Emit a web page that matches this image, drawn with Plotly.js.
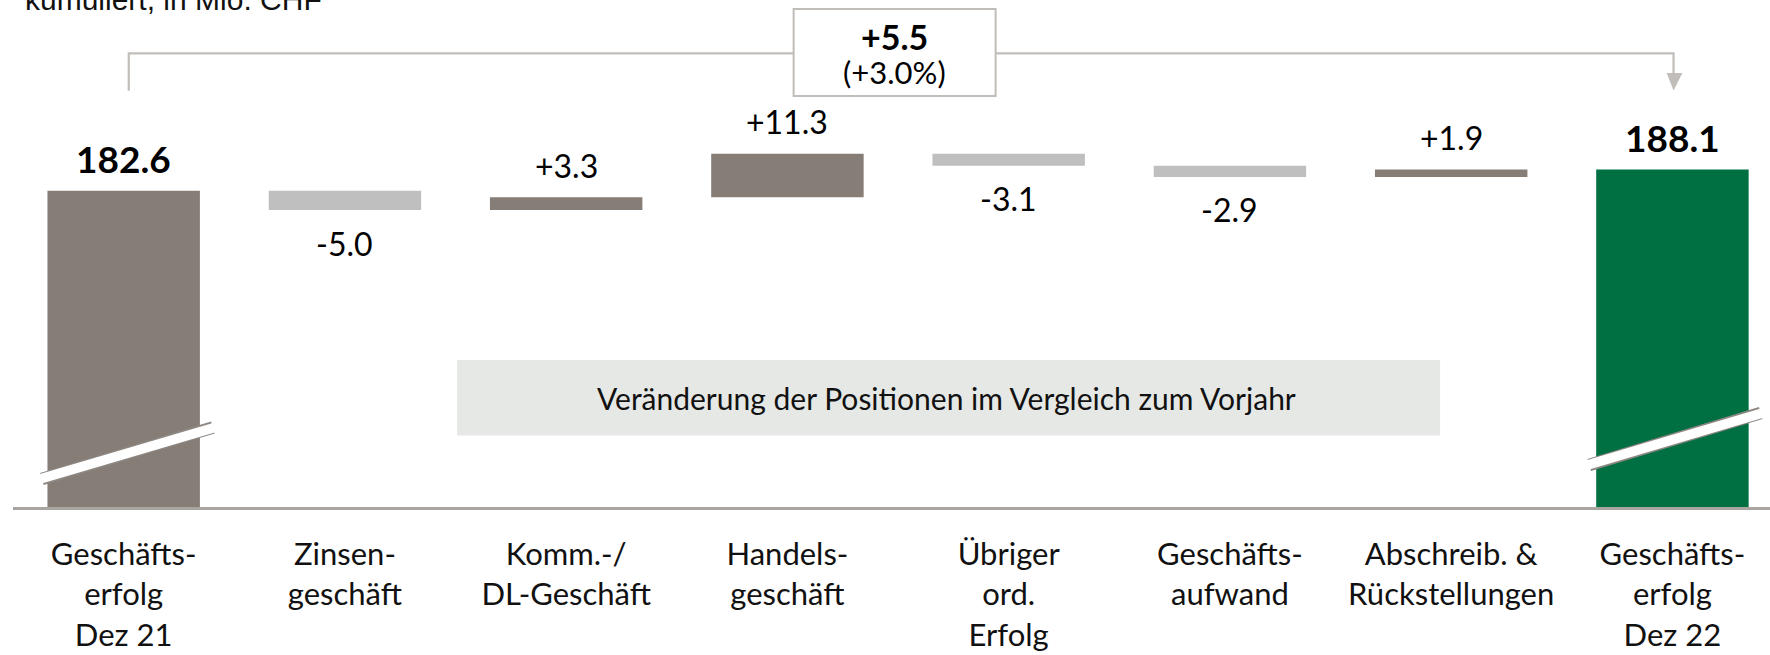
<!DOCTYPE html>
<html>
<head>
<meta charset="utf-8">
<script src="https://cdn.plot.ly/plotly-3.0.1.min.js"></script>
<style>html,body{margin:0;padding:0;background:#fff;}#chart{width:1770px;height:655px;}</style>
</head>
<body>
<div id="chart"></div>
<script>
// ---- data ----
const categories = ['Geschäfts-<br>erfolg<br>Dez 21', 'Zinsen-<br>geschäft', 'Komm.-/<br>DL-Geschäft', 'Handels-<br>geschäft', 'Übriger<br>ord.<br>Erfolg', 'Geschäfts-<br>aufwand', 'Abschreib. &<br>Rückstellungen', 'Geschäfts-<br>erfolg<br>Dez 22'];
const startValue = 182.6;
const deltas = [-5.0, 3.3, 11.3, -3.1, -2.9, 1.9];
const endValue = 188.1;
const totalChangeLabel = '+5.5';
const totalChangePctLabel = '(+3.0%)';
const subtitleText = 'kumuliert, in Mio. CHF';
const noteText = 'Veränderung der Positionen im Vergleich zum Vorjahr';

// ---- styles ----
const COL_POS = '#867d76', COL_NEG = '#bfbfbf', COL_END = '#006f41';
const FONT = 'Lato, "Open Sans", sans-serif';

// build waterfall pieces
const xs = [], bases = [], heights = [], colors = [];
xs.push(0); bases.push(0); heights.push(startValue); colors.push(COL_POS);
let cum = startValue;
deltas.forEach((d, i) => {
  xs.push(i + 1); bases.push(cum); heights.push(d); colors.push(d >= 0 ? COL_POS : COL_NEG);
  cum = Math.round((cum + d) * 10) / 10;
});
xs.push(deltas.length + 1); bases.push(0); heights.push(endValue); colors.push(COL_END);

const trace = {
  type: 'bar', x: xs, y: heights, base: bases,
  marker: {color: colors, line: {width: 0}},
  width: 0.689, hoverinfo: 'skip', showlegend: false
};

const annotations = [];
// value labels
xs.forEach((x, i) => {
  const isTotal = (i === 0 || i === xs.length - 1);
  const end = bases[i] + heights[i];
  const v = heights[i];
  const txt = isTotal ? v.toFixed(1) : (v >= 0 ? '+' : '-') + Math.abs(v).toFixed(1);
  annotations.push({
    x: x, y: end, xref: 'x', yref: 'y', text: isTotal ? '<b>' + txt + '</b>' : txt,
    showarrow: false, xanchor: 'center', yanchor: 'middle',
    yshift: v >= 0 ? 32 : -33,
    font: {family: FONT, size: isTotal ? 37 : 32, color: '#000'}
  });
});
// total change box text
annotations.push({x: 3.485, y: 0.9291, xref: 'x', yref: 'paper', text: '<b>' + totalChangeLabel + '</b>',
  showarrow: false, xanchor: 'center', yanchor: 'middle', font: {family: FONT, size: 34, color: '#000'}});
annotations.push({x: 3.485, y: 0.8583, xref: 'x', yref: 'paper', text: totalChangePctLabel,
  showarrow: false, xanchor: 'center', yanchor: 'middle', font: {family: FONT, size: 31, color: '#000'}});
// grey note text
annotations.push({x: 3.721, y: 0.2175, xref: 'x', yref: 'paper', text: noteText,
  showarrow: false, xanchor: 'center', yanchor: 'middle', font: {family: FONT, size: 30, color: '#111'}});
// subtitle (cut at top, as in the source)
annotations.push({x: 22.7 / 1770, y: 1, xref: 'paper', yref: 'paper', text: subtitleText,
  showarrow: false, xanchor: 'left', yanchor: 'middle', yshift: 1,
  font: {family: '"Liberation Sans", Arial, sans-serif', size: 30, color: '#111'}});

const BR = '#c1bdb9';
const shapes = [
  // grey note box
  {type: 'rect', xref: 'x', yref: 'paper', x0: 1.507, x1: 5.950, y0: 0.1427, y1: 0.2913,
   fillcolor: '#e6e8e5', line: {width: 0}, layer: 'below'},
  // axis break stripes
  {type: 'line', xref: 'x', yref: 'y', x0: -0.370, x1: 0.403, y0: 107.93, y1: 121.27, line: {color: '#8d8782', width: 12.5}},
  {type: 'line', xref: 'x', yref: 'y', x0: -0.380, x1: 0.413, y0: 107.90, y1: 121.30, line: {color: '#ffffff', width: 9.5}},
  {type: 'line', xref: 'x', yref: 'y', x0: 6.624, x1: 7.399, y0: 111.56, y1: 125.03, line: {color: '#8d8782', width: 12.5}},
  {type: 'line', xref: 'x', yref: 'y', x0: 6.614, x1: 7.409, y0: 111.53, y1: 125.06, line: {color: '#ffffff', width: 9.5}},
  // baseline
  {type: 'line', xref: 'paper', yref: 'paper', x0: 13 / 1770, x1: 1, y0: -0.001, y1: -0.001, line: {color: '#a9a5a0', width: 3}},
  // bracket
  {type: 'path', xref: 'x', yref: 'paper', path: '', line: {color: BR, width: 2.2}},
  {type: 'path', xref: 'x', yref: 'paper', path: '', fillcolor: BR, line: {color: BR, width: 0}},
  // change box
  {type: 'rect', xref: 'x', yref: 'paper', x0: 3.028, x1: 3.941, y0: 0.811, y1: 0.9823,
   fillcolor: '#ffffff', line: {color: BR, width: 2}}
];
const pY = px => (508 - px) / 508;
const bx0 = 0.023, bx1 = 7.005;
shapes[6].path = `M ${bx0} ${pY(90.7)} L ${bx0} ${pY(53.3)} L ${bx1} ${pY(53.3)} L ${bx1} ${pY(76)}`;
shapes[7].path = `M 6.974 ${pY(73)} L 7.045 ${pY(73)} L ${bx1} ${pY(90.5)} Z`;

const layout = {
  width: 1770, height: 655,
  margin: {l: 0, r: 0, t: 0, b: 147, pad: 0},
  paper_bgcolor: '#ffffff', plot_bgcolor: '#ffffff',
  showlegend: false,
  bargap: 0.311,
  xaxis: {range: [-0.559, 7.441], tickmode: 'array', tickvals: xs, ticktext: categories,
    showgrid: false, zeroline: false, showline: false, ticks: '', ticklabelstandoff: 25,
    tickfont: {family: FONT, size: 31, color: '#111'}, fixedrange: true},
  yaxis: {range: [100.42, 232.03], visible: false, showgrid: false, zeroline: false, fixedrange: true},
  annotations: annotations, shapes: shapes
};
Plotly.newPlot('chart', [trace], layout, {displayModeBar: false, staticPlot: true});
</script>
</body>
</html>
